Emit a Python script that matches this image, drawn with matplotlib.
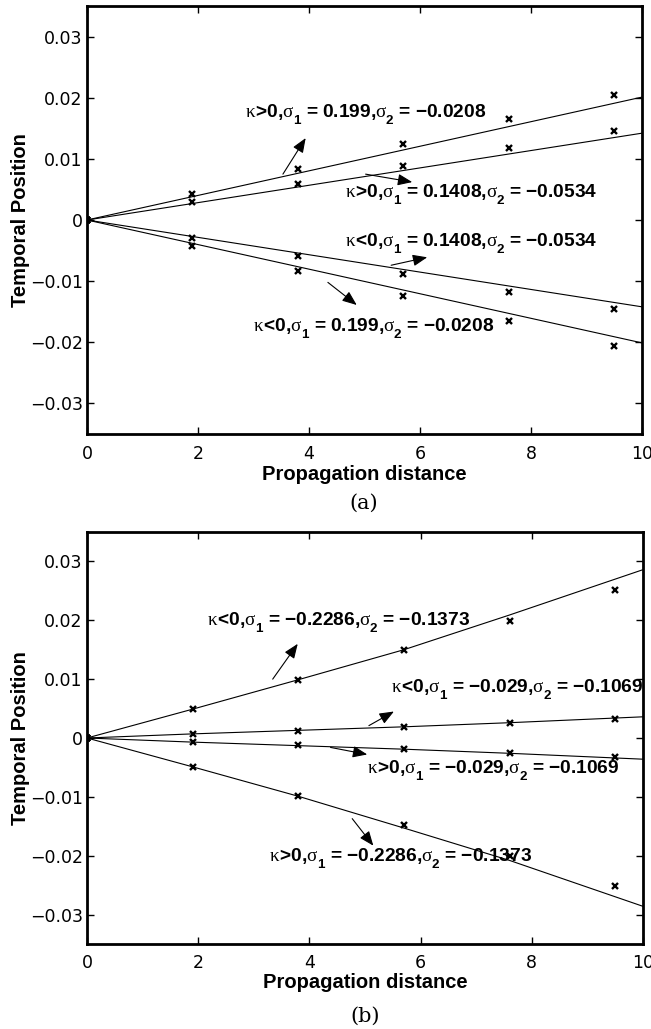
import matplotlib
matplotlib.use('Agg')
import matplotlib.pyplot as plt

try:
    import matplotlib._mathtext as _mt
    _mt.FontConstantsBase.sub1 = 0.8
except Exception:
    pass

plt.rcParams['font.family'] = ['Liberation Sans', 'DejaVu Sans']
plt.rcParams['mathtext.fontset'] = 'custom'
plt.rcParams['mathtext.rm'] = 'Liberation Serif'
plt.rcParams['mathtext.it'] = 'Liberation Serif:italic'
plt.rcParams['mathtext.bf'] = 'Liberation Sans:bold'
plt.rcParams['mathtext.sf'] = 'Liberation Sans'

# ---------------- data ----------------
z_samples = [0, 1.9, 3.8, 5.7, 7.6, 9.5]

# panel (a): simulated points
a_kpos_s0199 = [0, 0.0042, 0.0083, 0.0125, 0.0165, 0.0204]
a_kpos_s01408 = [0, 0.0030, 0.0059, 0.0088, 0.0117, 0.0145]
a_kneg_s01408 = [0, -0.0030, -0.0059, -0.0088, -0.0117, -0.0146]
a_kneg_s0199 = [0, -0.0042, -0.0083, -0.0125, -0.0166, -0.0206]
# panel (a): theory lines
a_line_z = [0, 10]
a_line_kpos_s0199 = [0, 0.0201]
a_line_kpos_s01408 = [0, 0.0142]
a_line_kneg_s01408 = [0, -0.0142]
a_line_kneg_s0199 = [0, -0.0201]

# panel (b): simulated points
b_kneg_s02286 = [0, 0.0049, 0.0099, 0.0149, 0.0199, 0.0251]
b_kneg_s0029 = [0, 0.0006, 0.0012, 0.0019, 0.0026, 0.0032]
b_kpos_s0029 = [0, -0.0007, -0.0012, -0.0019, -0.0026, -0.0032]
b_kpos_s02286 = [0, -0.0049, -0.0099, -0.0148, -0.0200, -0.0251]
# panel (b): theory lines
b_line_z = [0, 1.9, 3.8, 5.7, 7.6, 10]
b_line_kneg_s02286 = [0, 0.0049, 0.0099, 0.0150, 0.0209, 0.0286]
b_line_kneg_s0029 = [0, 0.0007, 0.0013, 0.0019, 0.0026, 0.0036]
b_line_kpos_s0029 = [0, -0.0007, -0.0013, -0.0019, -0.0026, -0.0036]
b_line_kpos_s02286 = [0, -0.0049, -0.0099, -0.0153, -0.0208, -0.0286]

# annotation texts
a_kappa = [1, 1, -1, -1]
a_sigma1 = ['0.199', '0.1408', '0.1408', '0.199']
a_sigma2 = ['-0.0208', '-0.0534', '-0.0534', '-0.0208']
b_kappa = [-1, -1, 1, 1]
b_sigma1 = ['-0.2286', '-0.029', '-0.029', '-0.2286']
b_sigma2 = ['-0.1373', '-0.1069', '-0.1069', '-0.1373']

# axis texts
x_ticks = [0, 2, 4, 6, 8, 10]
x_ticklabels = ['0', '2', '4', '6', '8', '10']
y_ticks = [-0.03, -0.02, -0.01, 0, 0.01, 0.02, 0.03]
y_ticklabels = ['\u22120.03', '\u22120.02', '\u22120.01', '0', '0.01', '0.02', '0.03']
x_label = 'Propagation distance'
y_label = 'Temporal Position'
panel_tags = ['(a)', '(b)']

# placement of annotations (data coordinates)
a_text_pos = [(2.85, 0.0167), (4.64, 0.0036), (4.64, -0.0044), (2.99, -0.0183)]
a_arrow_tail = [(3.53, 0.0075), (5.02, 0.0075), (5.48, -0.0074), (4.34, -0.0102)]
a_arrow_head = [(3.94, 0.0134), (5.86, 0.0062), (6.13, -0.0061), (4.86, -0.0139)]
b_text_pos = [(2.16, 0.0190), (5.47, 0.0076), (5.04, -0.0061), (3.27, -0.0211)]
b_arrow_tail = [(3.34, 0.0100), (5.07, 0.0021), (4.38, -0.0016), (4.77, -0.0137)]
b_arrow_head = [(3.79, 0.0160), (5.52, 0.0045), (5.04, -0.0028), (5.15, -0.0183)]


def make_label(kappa_sign, s1, s2):
    rel = '>' if kappa_sign > 0 else '<'
    return (r'$\mathrm{\kappa}\mathbf{\!' + rel + r'\!0{,}}'
            r'\mathrm{\sigma}_{\mathbf{1}}\mathbf{\,=\,}\mathbf{' + s1 + r'{,}}'
            r'\mathrm{\sigma}_{\mathbf{2}}\mathbf{\,=\,}\mathbf{' + s2 + r'}$')


W, H = 651, 1029
fig = plt.figure(figsize=(W / 100, H / 100), dpi=100)
ax_a = fig.add_axes([87 / W, 1 - 434 / H, (642 - 87) / W, (434 - 6) / H])
ax_b = fig.add_axes([87 / W, 1 - 944 / H, (643 - 87) / W, (944 - 532) / H])

line_kw = dict(color='black', lw=0.8)
mark_kw = dict(ls='none', marker='x', color='black', ms=4.5, mew=1.7)
arrow_kw = dict(arrowstyle='-|>,head_length=0.55,head_width=0.22', color='black',
                lw=0.8, mutation_scale=16, shrinkA=0, shrinkB=0)

for ys in [a_line_kpos_s0199, a_line_kpos_s01408, a_line_kneg_s01408, a_line_kneg_s0199]:
    ax_a.plot(a_line_z, ys, **line_kw)
for ys in [a_kpos_s0199, a_kpos_s01408, a_kneg_s01408, a_kneg_s0199]:
    ax_a.plot(z_samples, ys, **mark_kw)

for ys in [b_line_kneg_s02286, b_line_kneg_s0029, b_line_kpos_s0029, b_line_kpos_s02286]:
    ax_b.plot(b_line_z, ys, **line_kw)
for ys in [b_kneg_s02286, b_kneg_s0029, b_kpos_s0029, b_kpos_s02286]:
    ax_b.plot(z_samples, ys, **mark_kw)

for ax, kap, s1s, s2s, tpos, tails, heads in [
        (ax_a, a_kappa, a_sigma1, a_sigma2, a_text_pos, a_arrow_tail, a_arrow_head),
        (ax_b, b_kappa, b_sigma1, b_sigma2, b_text_pos, b_arrow_tail, b_arrow_head)]:
    for k, s1, s2, p, t, h in zip(kap, s1s, s2s, tpos, tails, heads):
        ax.text(p[0], p[1], make_label(k, s1, s2), fontsize=13.8,
                ha='left', va='baseline', clip_on=False)
        ax.annotate('', xy=h, xytext=t, arrowprops=arrow_kw)

for ax, xpad in ((ax_a, 8), (ax_b, 7)):
    ax.set_xlim(0, 10)
    ax.set_ylim(-0.035, 0.035)
    ax.set_xticks(x_ticks)
    ax.set_xticklabels(x_ticklabels)
    ax.set_yticks(y_ticks)
    ax.set_yticklabels(y_ticklabels)
    ax.tick_params(direction='in', length=5, width=1.0, top=True, right=True,
                   labelsize=12.5, labelfontfamily='DejaVu Sans')
    ax.tick_params(axis='x', pad=xpad)
    ax.tick_params(axis='y', pad=3)
    for sp in ax.spines.values():
        sp.set_linewidth(2.0)
    ax.set_xlabel(x_label, fontsize=14.5, fontweight='bold', labelpad=1)
    ax.set_ylabel(y_label, fontsize=14.5, fontweight='bold', labelpad=0)

fig.text(364 / W, 1 - 503 / H, panel_tags[0], ha='center', va='center',
         fontsize=15, family='DejaVu Serif')
fig.text(365 / W, 1 - 1016 / H, panel_tags[1], ha='center', va='center',
         fontsize=15, family='DejaVu Serif')

fig.savefig('out.png', dpi=100)
